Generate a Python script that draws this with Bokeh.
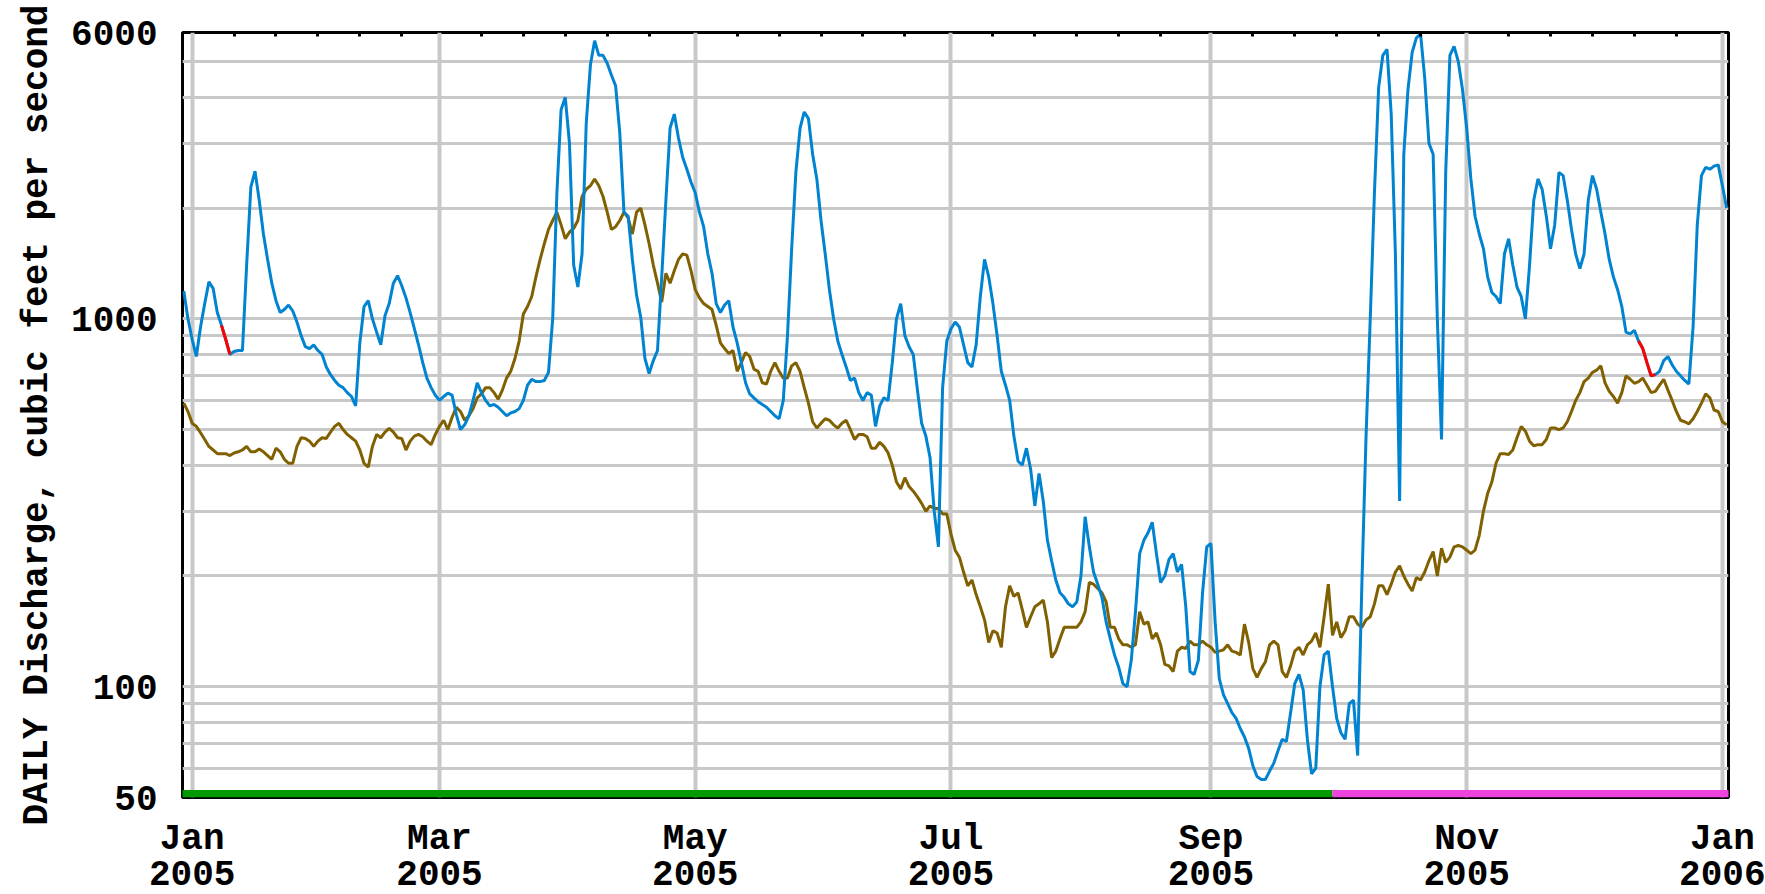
import pandas as pd
from bokeh.plotting import figure
from bokeh.models import (Range1d, FixedTicker, LinearAxis, CustomJSTickFormatter,
                          NumeralTickFormatter)
from bokeh.embed import file_html
from bokeh.resources import INLINE

# ---------------- data ----------------
start_date = "2004-12-30"          # first daily value

# daily discharge, cubic feet per second (blue)
discharge = [
    1190, 1000, 880, 790, 950, 1100, 1260, 1210, 1040, 960, 880, 800,
    815, 820, 820, 1400, 2280, 2520, 2100, 1700, 1450, 1250,
    1120, 1040, 1060, 1090, 1050, 980, 900, 840, 830, 850,
    820, 800, 740, 705, 680, 660, 650, 630, 615, 580,
    860, 1080, 1120, 1000, 920, 850, 1020, 1100, 1250, 1310,
    1230, 1140, 1040, 940, 850, 760, 690, 650, 620, 600,
    615, 628, 620, 550, 500, 515, 545, 600, 670, 630,
    600, 580, 585, 575, 560, 545, 555, 560, 570, 600,
    660, 685, 675, 675, 680, 715, 1000, 2200, 3700, 4000,
    3000, 1400, 1220, 1500, 3400, 4900, 5700, 5200, 5200, 4950,
    4600, 4300, 3200, 1950, 1900, 1450, 1160, 1010, 780, 710,
    770, 820, 1300, 2100, 3300, 3600, 3100, 2750, 2550, 2350,
    2200, 1950, 1780, 1500, 1330, 1100, 1040, 1090, 1120, 950,
    860, 760, 670, 625, 610, 595, 585, 575, 560, 545,
    535, 600, 900, 1550, 2500, 3300, 3650, 3500, 2800, 2400,
    1850, 1500, 1200, 1000, 870, 800, 740, 680, 690, 630,
    600, 630, 620, 510, 580, 610, 600, 760, 1000, 1100,
    900, 840, 800, 640, 520, 480, 420, 300, 240, 650,
    870, 940, 980, 950, 850, 760, 740, 850, 1150, 1450,
    1300, 1100, 900, 720, 660, 600, 480, 410, 400, 445,
    390, 310, 380, 320, 250, 220, 195, 180, 175, 168,
    165, 170, 200, 290, 240, 205, 190, 175, 150, 135,
    122, 113, 102, 100, 118, 160, 230, 250, 262, 280,
    230, 192, 200, 222, 230, 205, 215, 165, 110, 108,
    118, 180, 240, 245, 150, 105, 95, 90, 85, 82,
    77, 73, 68, 61, 57, 56, 56, 59, 62, 67,
    72, 71, 85, 102, 108, 98, 72, 58, 60, 100,
    122, 125, 100, 82, 75, 72, 90, 92, 65, 190,
    480, 1000, 2200, 4250, 5200, 5400, 3600, 1500, 320, 2800,
    4200, 5300, 5800, 5950, 4500, 3000, 2800, 1000, 470, 2500,
    5200, 5500, 5000, 4200, 3300, 2400, 1900, 1700, 1550, 1300,
    1180, 1150, 1100, 1500, 1650, 1400, 1220, 1150, 1000, 1400,
    2100, 2400, 2250, 1900, 1550, 1800, 2500, 2450, 2100, 1750,
    1500, 1370, 1500, 2100, 2450, 2250, 1950, 1700, 1450, 1300,
    1200, 1080, 920, 910, 930, 870, 830, 760, 700, 705,
    720, 770, 790, 750, 720, 700, 680, 665, 950, 1800,
    2450, 2580, 2550, 2600, 2620, 2300, 2000,
]

# daily median discharge (brown)
median_discharge = [
    590, 560, 520, 510, 490, 470, 450, 440, 430, 430, 430, 425,
    432, 435, 440, 450, 435, 435, 443, 435, 425, 415,
    445, 435, 415, 405, 405, 450, 475, 473, 465, 450,
    465, 475, 473, 492, 510, 520, 500, 485, 475, 465,
    440, 405, 395, 450, 485, 475, 492, 504, 492, 475,
    473, 440, 465, 480, 485, 478, 465, 455, 485, 510,
    530, 500, 540, 575, 560, 530, 545, 570, 610, 625,
    650, 650, 630, 605, 640, 690, 720, 780, 870, 1030,
    1080, 1150, 1300, 1450, 1600, 1750, 1850, 1950, 1800, 1650,
    1720, 1760, 1850, 2150, 2250, 2300, 2400, 2300, 2150, 1950,
    1750, 1780, 1850, 1950, 1880, 1700, 1950, 2000, 1800, 1600,
    1400, 1250, 1110, 1330, 1250, 1350, 1450, 1500, 1490, 1350,
    1200, 1140, 1100, 1080, 1060, 960, 860, 830, 805, 820,
    720, 760, 810, 790, 730, 720, 670, 665, 720, 760,
    720, 690, 690, 745, 760, 720, 650, 590, 525, 505,
    520, 535, 530, 515, 505, 520, 530, 500, 470, 485,
    485, 478, 445, 445, 462, 450, 432, 400, 360, 345,
    370, 350, 340, 328, 315, 300, 310, 305, 305, 295,
    295, 260, 235, 225, 205, 188, 195, 178, 165, 152,
    132, 142, 140, 128, 165, 188, 176, 180, 162, 145,
    155, 165, 168, 172, 150, 120, 125, 135, 145, 145,
    145, 145, 150, 160, 192, 190, 185, 180, 170, 145,
    145, 135, 130, 130, 128, 130, 160, 148, 150, 135,
    140, 130, 115, 114, 110, 125, 128, 127, 133, 130,
    130, 133, 130, 128, 124, 125, 126, 130, 125, 124,
    122, 148, 132, 112, 106, 112, 117, 130, 133, 130,
    110, 106, 114, 125, 128, 122, 130, 133, 140, 128,
    155, 190, 138, 150, 136, 142, 155, 155, 148, 145,
    152, 155, 168, 188, 188, 178, 190, 205, 213, 200,
    190, 182, 198, 195, 205, 220, 233, 200, 238, 218,
    225, 240, 242, 240, 235, 230, 235, 258, 300, 335,
    360, 405, 430, 430, 428, 440, 475, 510, 495, 465,
    452, 455, 455, 470, 505, 505, 500, 505, 525, 560,
    600, 630, 675, 690, 715, 725, 745, 670, 635, 615,
    590, 630, 700, 685, 668, 675, 690, 660, 630, 635,
    660, 685, 640, 600, 560, 530, 525, 518, 535, 560,
    590, 625, 610, 565, 560, 525, 515,
]

# periods of estimated discharge (drawn red)
estimated_starts = ["2005-01-08", "2005-12-12"]
estimated_ends = ["2005-01-10", "2005-12-16"]

# data-status bar along the bottom
status_starts = ["2004-12-29", "2005-09-30"]
status_ends = ["2005-09-30", "2006-01-03"]
status_colors = ["#009900", "#ee44dd"]

x_tick_dates = ["2005-01-01", "2005-03-01", "2005-05-01", "2005-07-01",
                "2005-09-01", "2005-11-01", "2006-01-01"]
x_tick_months = ["Jan", "Mar", "May", "Jul", "Sep", "Nov", "Jan"]
x_tick_years = ["2005", "2005", "2005", "2005", "2005", "2005", "2006"]
y_tick_values = [50, 100, 1000, 6000]
y_minor_values = [60, 70, 80, 90, 200, 300, 400, 500, 600, 700, 800, 900,
                  2000, 3000, 4000, 5000]
y_label = "DAILY Discharge, cubic feet per second"

# ---------------- layout ----------------
DAY_MS = 86400000
W, H = 1765, 894
FONT = "Liberation Mono"
FSIZE = "36px"
GRID = "#c8c8c8"


def ms(d):
    return pd.Timestamp(d).value / 1e6


x0 = ms("2005-01-01") - 2.3 * DAY_MS
x1 = ms("2006-01-01") + 1.45 * DAY_MS
Y0, Y1 = 50, 6000

dates_q = pd.date_range(start_date, periods=len(discharge), freq="D")
dates_m = pd.date_range(start_date, periods=len(median_discharge), freq="D")

p = figure(width=W, height=H, x_axis_type="datetime", y_axis_type="log",
           x_range=Range1d(x0, x1), y_range=Range1d(Y0, Y1),
           output_backend="svg", toolbar_location=None,
           min_border_left=182, min_border_right=37,
           min_border_top=32, min_border_bottom=97)
p.background_fill_color = "white"
p.border_fill_color = "white"
p.outline_line_color = "black"
p.outline_line_width = 3
p.outline_line_alpha = 1

tick_ms = [ms(d) for d in x_tick_dates]


def lookup_formatter(labels):
    return CustomJSTickFormatter(
        args=dict(tvals=tick_ms, tlabels=labels),
        code="""
        for (let i = 0; i < tvals.length; i++) {
            if (Math.abs(tick - tvals[i]) < 86400000) return tlabels[i];
        }
        return "";
        """)


def style_date_axis(ax, labels, standoff):
    ax.ticker = FixedTicker(ticks=tick_ms)
    ax.formatter = lookup_formatter(labels)
    ax.axis_line_color = None
    ax.major_tick_line_color = None
    ax.minor_tick_line_color = None
    ax.major_tick_in = 0
    ax.major_tick_out = 0
    ax.major_label_standoff = standoff
    ax.major_label_text_font = FONT
    ax.major_label_text_font_size = FSIZE
    ax.major_label_text_font_style = "bold"
    ax.major_label_text_color = "black"


# month line and year line under the frame
style_date_axis(p.below[0], x_tick_months, 21)
year_axis = LinearAxis()
style_date_axis(year_axis, x_tick_years, -2)
p.add_layout(year_axis, "below")

# left axis
ya = p.left[0]
ya.ticker = FixedTicker(ticks=y_tick_values, minor_ticks=y_minor_values)
ya.formatter = NumeralTickFormatter(format="0")
ya.axis_line_color = None
ya.major_tick_line_color = None
ya.minor_tick_line_color = None
ya.major_tick_in = 0
ya.major_tick_out = 0
ya.major_label_standoff = 21
ya.major_label_text_font = FONT
ya.major_label_text_font_size = FSIZE
ya.major_label_text_font_style = "bold"
ya.major_label_text_color = "black"
ya.axis_label = y_label
ya.axis_label_text_font = FONT
ya.axis_label_text_font_size = FSIZE
ya.axis_label_text_font_style = "bold"
ya.axis_label_text_color = "black"
ya.axis_label_standoff = 10

# small inner ticks on the top edge, every 10 days between labelled dates
top_ticks = [t + k * 10 * DAY_MS for t in tick_ms[:-1] for k in range(1, 6)]
top = LinearAxis(ticker=FixedTicker(ticks=top_ticks),
                 formatter=CustomJSTickFormatter(code="return '';"),
                 axis_line_color=None, major_tick_in=4, major_tick_out=0,
                 major_tick_line_width=3, major_tick_line_color="black",
                 minor_tick_line_color=None, major_label_standoff=0,
                 major_label_text_font_size="1px")
p.add_layout(top, "above")

# grids
p.xgrid.ticker = FixedTicker(ticks=tick_ms)
p.xgrid.grid_line_color = GRID
p.xgrid.grid_line_width = 4
p.ygrid.ticker = FixedTicker(ticks=y_tick_values, minor_ticks=y_minor_values)
p.ygrid.grid_line_color = GRID
p.ygrid.grid_line_width = 3
p.ygrid.minor_grid_line_color = GRID
p.ygrid.minor_grid_line_width = 3

# status bar along the bottom (about 7 px tall)
bar_top = Y0 * 10 ** (7.5 / 368.0)
p.quad(left=[pd.Timestamp(d) for d in status_starts],
       right=[pd.Timestamp(d) for d in status_ends],
       bottom=[Y0] * len(status_starts), top=[bar_top] * len(status_starts),
       fill_color=status_colors, line_color=None)

# series
p.line(dates_m, median_discharge, line_color="#806000", line_width=3)
p.line(dates_q, discharge, line_color="#0083d0", line_width=3)

qs = pd.Series(discharge, index=dates_q)
for s, e in zip(estimated_starts, estimated_ends):
    seg = qs[s:e]
    p.line(seg.index, seg.values, line_color="#ff0000", line_width=3)

open("out.html", "w").write(file_html(p, INLINE))
